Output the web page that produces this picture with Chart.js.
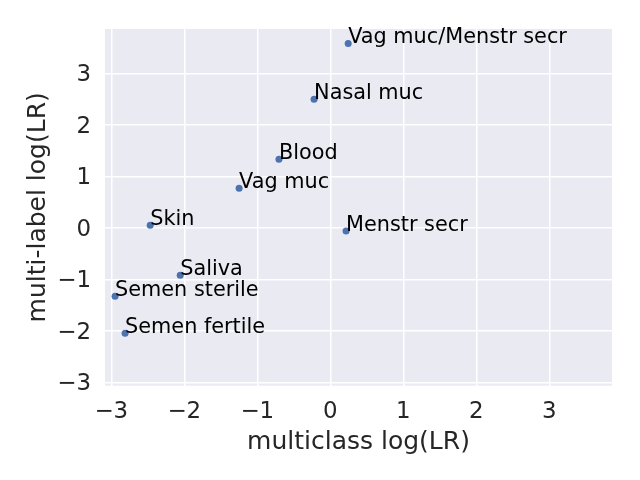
<!DOCTYPE html>
<html>
<head>
<meta charset="utf-8">
<script src="https://cdn.jsdelivr.net/npm/chart.js@4.4.0/dist/chart.umd.min.js"></script>
<style>
  html, body { margin: 0; padding: 0; background: #fff; }
  #wrap { width: 640px; height: 480px; }
</style>
</head>
<body>
<div id="wrap"><canvas id="scatter" width="640" height="480"></canvas></div>
<script>
// datos
const bodyFluids = ['Vag muc/Menstr secr', 'Nasal muc', 'Blood', 'Vag muc', 'Skin',
                    'Menstr secr', 'Saliva', 'Semen sterile', 'Semen fertile'];
const multiclassLR = [0.245, -0.222, -0.703, -1.249, -2.467, 0.216, -2.056, -2.948, -2.811];
const multilabelLR = [3.58, 2.495, 1.33, 0.767, 0.049, -0.062, -0.922, -1.33, -2.05];
const xTicks = [-3, -2, -1, 0, 1, 2, 3];
const yTicks = [-3, -2, -1, 0, 1, 2, 3];

const points = multiclassLR.map((x, i) => ({ x: x, y: multilabelLR[i] }));
const FONT = "'DejaVu Sans', sans-serif";
const minus = v => String(v).replace('-', '\u2212');

// fondo gris estilo seaborn
const fondo = {
    id: 'fondo',
    beforeDraw(chart) {
        const a = chart.chartArea, ctx = chart.ctx;
        ctx.save();
        ctx.fillStyle = '#eaeaf2';
        ctx.fillRect(a.left, a.top, a.right - a.left, a.bottom - a.top);
        ctx.restore();
    }
};

// etiquetas junto a cada punto
const etiquetas = {
    id: 'etiquetas',
    afterDatasetsDraw(chart) {
        const ctx = chart.ctx, sx = chart.scales.x, sy = chart.scales.y;
        ctx.save();
        ctx.font = '20.8px ' + FONT;
        ctx.fillStyle = '#000';
        ctx.textAlign = 'left';
        ctx.textBaseline = 'alphabetic';
        bodyFluids.forEach((name, i) => {
            ctx.fillText(name, sx.getPixelForValue(multiclassLR[i]), sy.getPixelForValue(multilabelLR[i]));
        });
        ctx.restore();
    }
};

const ctx = document.getElementById('scatter').getContext('2d');
new Chart(ctx, {
    type: 'scatter',
    data: {
        datasets: [{
            data: points,
            backgroundColor: '#4c72b0',
            borderWidth: 0,
            pointRadius: 3.5,
            pointHoverRadius: 3.5
        }]
    },
    options: {
        responsive: false,
        animation: false,
        events: [],
        layout: { padding: { top: 29, right: 28, left: 0, bottom: 0 } },
        plugins: { legend: { display: false }, tooltip: { enabled: false } },
        scales: {
            x: {
                min: -3.086,
                max: 3.859,
                afterBuildTicks: s => { s.ticks = xTicks.map(v => ({ value: v })); },
                afterFit: s => { s.height = 94.3; },
                border: { display: false },
                grid: { color: '#ffffff', lineWidth: 1.5, drawTicks: false },
                ticks: { color: '#262626', padding: 13, font: { family: FONT, size: 22.9 },
                         callback: v => minus(v) },
                title: { display: true, text: 'multiclass log(LR)', color: '#262626',
                         padding: { bottom: 22.5 }, font: { family: FONT, size: 25 } }
            },
            y: {
                min: -3.066,
                max: 3.86,
                afterBuildTicks: s => { s.ticks = yTicks.map(v => ({ value: v })); },
                afterFit: s => { s.width = 105; },
                border: { display: false },
                grid: { color: '#ffffff', lineWidth: 1.5, drawTicks: false },
                ticks: { color: '#262626', padding: 14, labelOffset: 2, font: { family: FONT, size: 22.9 },
                         callback: v => minus(v) },
                title: { display: true, text: 'multi-label log(LR)', color: '#262626',
                         padding: { top: 23 }, font: { family: FONT, size: 25 } }
            }
        }
    },
    plugins: [fondo, etiquetas]
});
</script>
</body>
</html>
